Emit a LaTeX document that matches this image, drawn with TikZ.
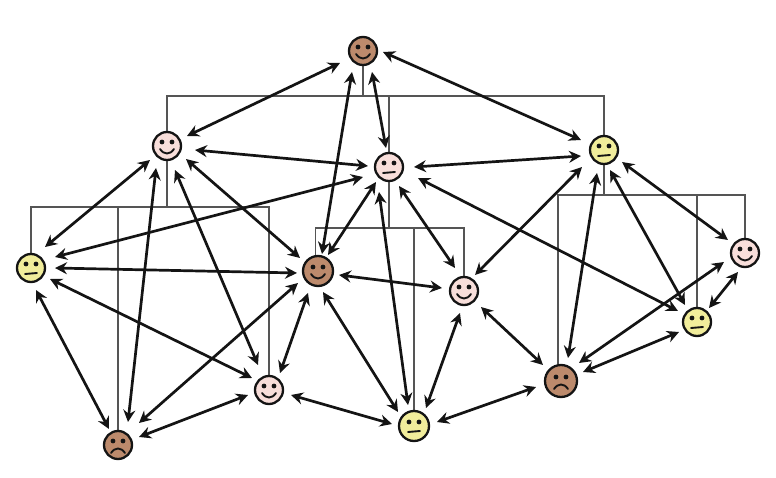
\documentclass[tikz,border=0pt]{standalone}
\usetikzlibrary{arrows.meta,calc,backgrounds}
\definecolor{skinB}{HTML}{BC8A6C}
\definecolor{skinP}{HTML}{F8DEDA}
\definecolor{skinY}{HTML}{F1ED9B}
\definecolor{treeC}{HTML}{555555}
\definecolor{inkC}{HTML}{141414}
\tikzset{
  person/.style={circle,draw=inkC,line width=2.3pt,inner sep=0pt,minimum size=#1},
  person/.default=28pt,
  brownp/.style={fill=skinB},
  pinkp/.style={fill=skinP},
  yellowp/.style={fill=skinY},
  tree/.style={draw=treeC,line width=1.3pt},
  rel/.style={draw=inkC,line width=2.7pt,{Stealth[length=12pt,width=12pt,inset=4pt]}-{Stealth[length=12pt,width=12pt,inset=4pt]}},
  eye/.style={fill=inkC,draw=none},
  mouth/.style={draw=inkC,line width=1.9pt,line cap=round}
}
\newcommand{\conn}[6]{\draw[rel] ($(#1)+(#2,#3)$) -- ($(#4)+(#5,#6)$);}
\newcommand{\faceeyes}[1]{\fill[eye] ($(#1)+(-5,-4)$) circle (2.4pt); \fill[eye] ($(#1)+(5,-4)$) circle (2.4pt);}
\newcommand{\facehappy}[1]{\faceeyes{#1}\draw[mouth] ($(#1)+(-7,3)$) .. controls ($(#1)+(-3,9)$) and ($(#1)+(3,9)$) .. ($(#1)+(7,3)$);}
\newcommand{\faceflat}[1]{\faceeyes{#1}\draw[mouth] ($(#1)+(-6,6)$) -- ($(#1)+(6,5)$);}
\newcommand{\facesad}[1]{\faceeyes{#1}\draw[mouth] ($(#1)+(-7,8)$) .. controls ($(#1)+(-3,2)$) and ($(#1)+(3,2)$) .. ($(#1)+(7,8)$);}
\begin{document}
\begin{tikzpicture}[x=1pt,y=-1pt]
\useasboundingbox (0,0) rectangle (776,478);
\node[person,brownp]  (T) at (363,51) {};
\node[person,pinkp]   (A) at (167,146) {};
\node[person,pinkp]   (B) at (389,167) {};
\node[person,yellowp] (C) at (604,150) {};
\node[person,yellowp] (D) at (31,268) {};
\node[person=30pt,brownp] (E) at (318,271) {};
\node[person,pinkp]   (F) at (464,291) {};
\node[person,pinkp]   (G) at (745,253) {};
\node[person,yellowp] (H) at (697,322) {};
\node[person=32pt,brownp] (I) at (561,381) {};
\node[person=30pt,yellowp] (J) at (414,426) {};
\node[person,pinkp]   (K) at (269,390) {};
\node[person,brownp]  (L) at (118,445) {};
\begin{scope}[on background layer]
\coordinate (y1) at (0,96);
\coordinate (y2) at (0,207);
\coordinate (y3) at (0,228);
\coordinate (y4) at (0,195);
\draw[tree] (A.north) -- (A|-y1) -- (C|-y1) -- (C.north);
\draw[tree] (T.south) -- (T|-y1);
\draw[tree] (B.north) -- (B|-y1);
\draw[tree] (D.north) -- (D|-y2) -- (K|-y2) -- (K.north);
\draw[tree] (A.south) -- (A|-y2);
\draw[tree] (L.north) -- (L|-y2);
\draw[tree] (E.100) -- (E.100|-y3) -- (F|-y3) -- (F.north);
\draw[tree] (B.south) -- (B|-y3);
\draw[tree] (J.north) -- (J|-y3);
\draw[tree] (I.100) -- (I.100|-y4) -- (G|-y4) -- (G.north);
\draw[tree] (C.south) -- (C|-y4);
\draw[tree] (H.north) -- (H|-y4);
\end{scope}
\facehappy{T}\facehappy{A}\faceflat{B}\faceflat{C}\faceflat{D}\facehappy{E}
\facehappy{F}\facehappy{G}\faceflat{H}\facesad{I}\faceflat{J}\facehappy{K}\facesad{L}
\conn{T}{-23}{12}{A}{20}{-10}
\conn{T}{-11}{21}{E}{4}{-17}
\conn{T}{9}{21}{B}{-3}{-19}
\conn{T}{20}{1}{C}{-23}{-10}
\conn{A}{28}{4}{B}{-21}{-1}
\conn{A}{-17}{14}{D}{14}{-21}
\conn{A}{-11}{22}{L}{10}{-23}
\conn{A}{8}{24}{K}{-11}{-25}
\conn{A}{19}{13}{E}{-18}{-13}
\conn{B}{-26}{10}{D}{24}{-11}
\conn{B}{-13}{15}{E}{10}{-16}
\conn{B}{-10}{25}{J}{-6}{-21}
\conn{B}{10}{19}{F}{-9}{-23}
\conn{B}{25}{0}{C}{-23}{6}
\conn{B}{29}{11}{H}{-19}{-11}
\conn{C}{-22}{17}{F}{11}{-16}
\conn{C}{-7}{23}{I}{7}{-23}
\conn{C}{6}{20}{H}{-12}{-17}
\conn{C}{18}{12}{G}{-17}{-13}
\conn{D}{24}{0}{E}{-21}{2}
\conn{D}{19}{11}{K}{-17}{-12}
\conn{D}{5}{22}{L}{-9}{-16}
\conn{E}{-20}{12}{L}{21}{-22}
\conn{E}{-10}{22}{K}{11}{-17}
\conn{E}{5}{21}{J}{-16}{-14}
\conn{E}{21}{4}{F}{-22}{-3}
\conn{F}{-4}{22}{J}{12}{-18}
\conn{F}{17}{16}{I}{-18}{-16}
\conn{K}{22}{5}{J}{-22}{-2}
\conn{K}{-21}{5}{L}{21}{-8}
\conn{J}{23}{-4}{I}{-25}{6}
\conn{I}{18}{-18}{G}{-21}{9}
\conn{I}{22}{-9}{H}{-18}{10}
\conn{G}{-7}{19}{H}{12}{-14}
\end{tikzpicture}
\end{document}
